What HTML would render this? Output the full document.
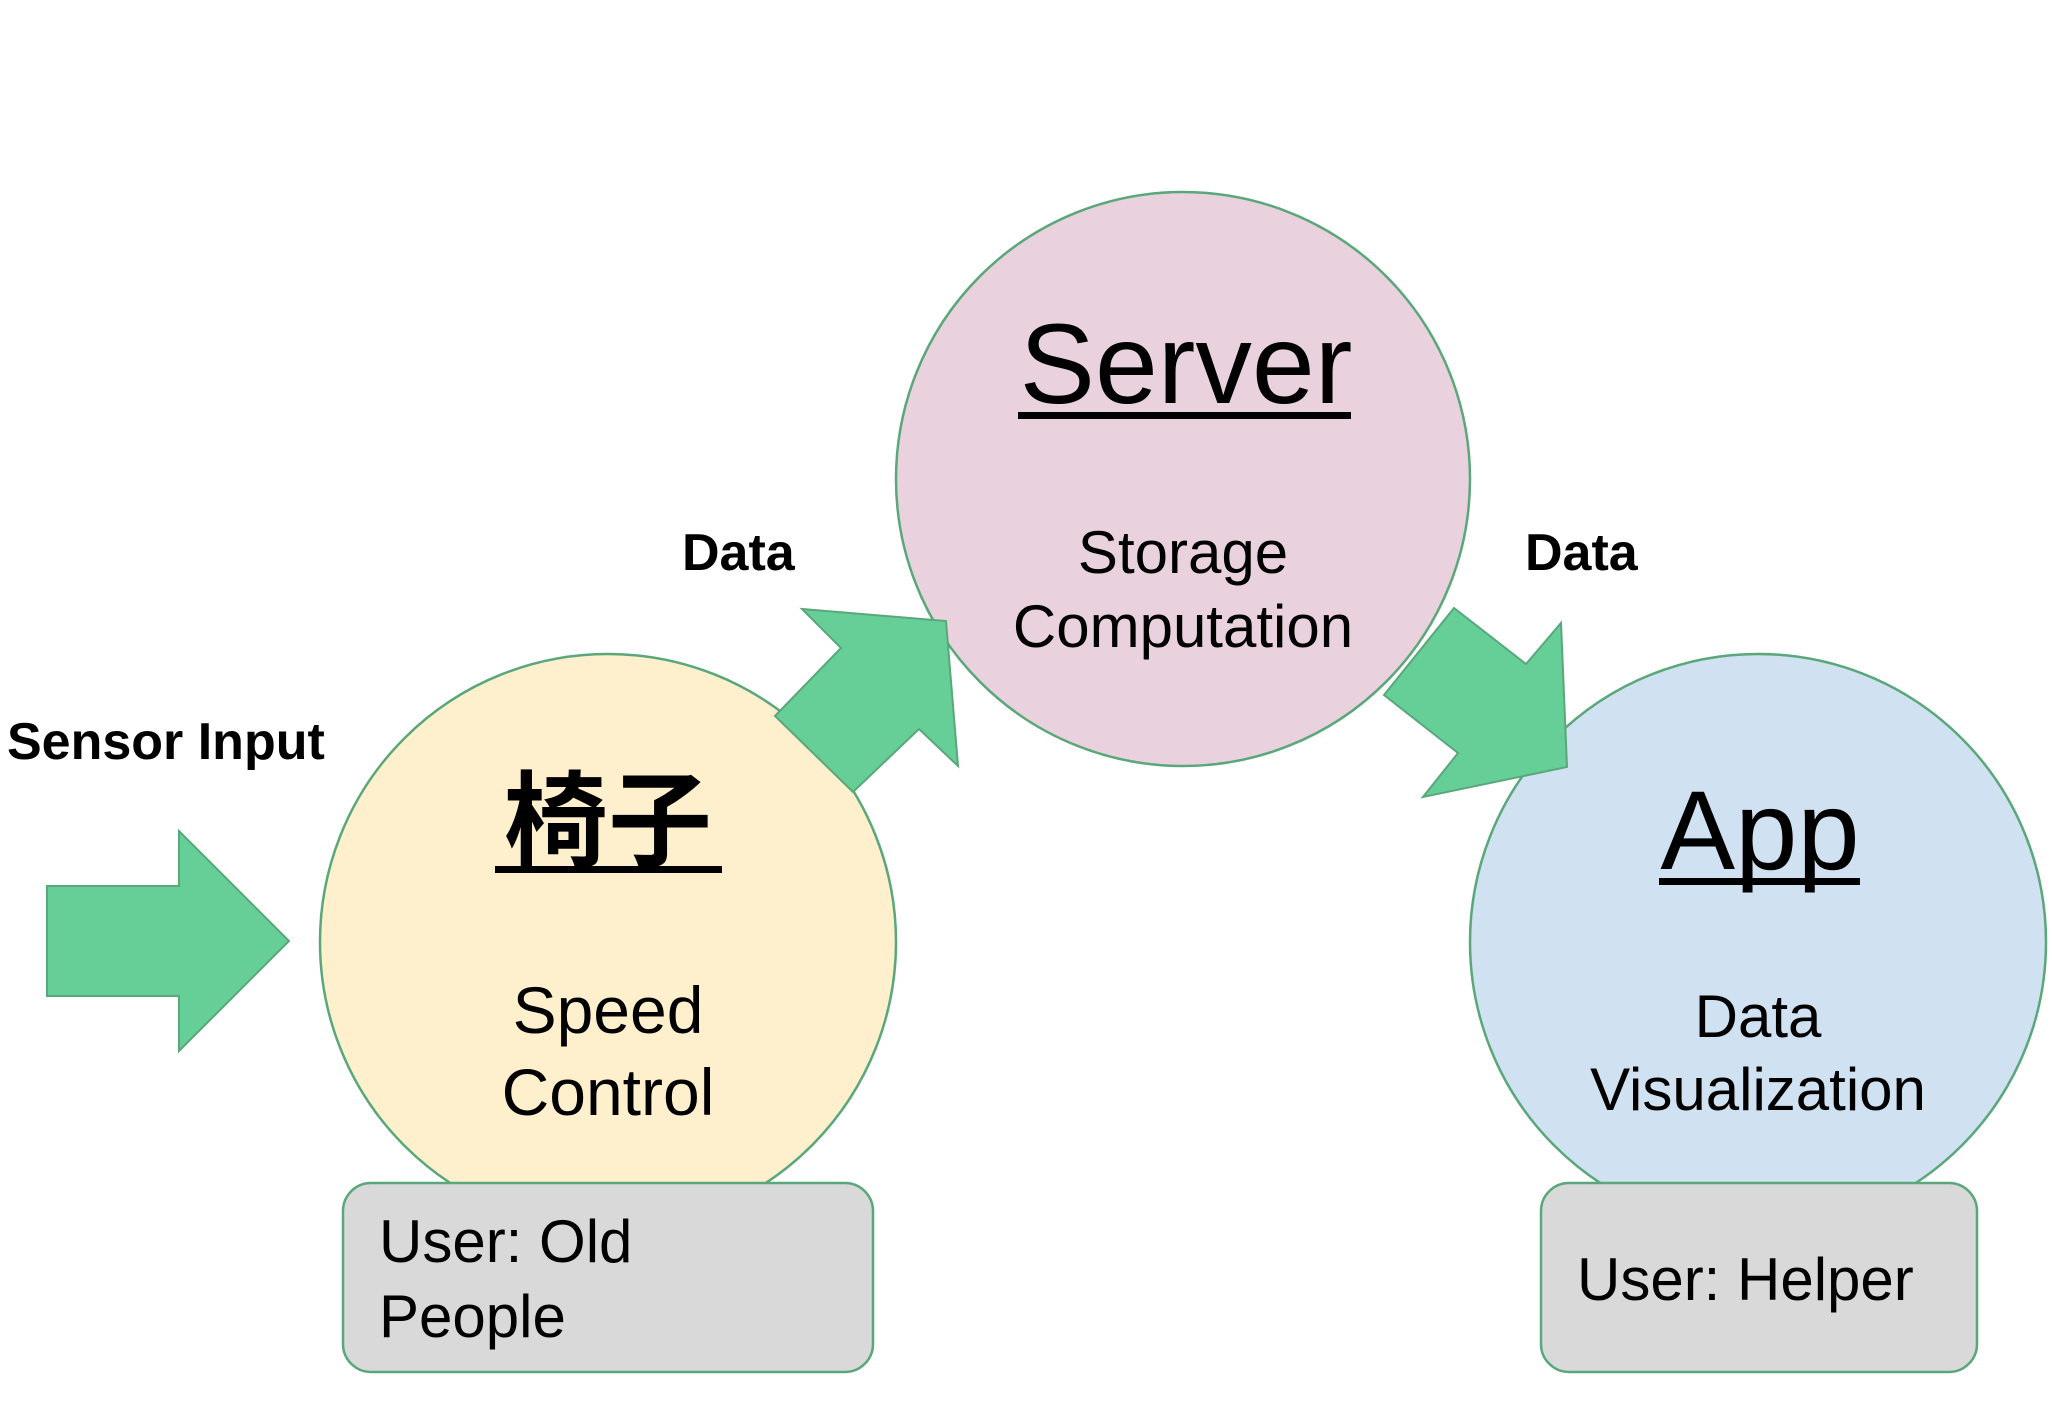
<!DOCTYPE html>
<html><head><meta charset="utf-8"><style>
html,body{margin:0;padding:0;background:#fff;}
svg{display:block;}
text{font-family:"Liberation Sans","Noto Sans CJK SC",sans-serif;fill:#000;}
</style></head><body>
<svg width="2052" height="1402" viewBox="0 0 2052 1402" xmlns="http://www.w3.org/2000/svg">
<rect width="2052" height="1402" fill="#fff"/>
<circle cx="608" cy="942" r="288" fill="#fff0cd" stroke="#5aa77a" stroke-width="2.5"/>
<circle cx="1183" cy="479" r="287" fill="#e9d2dd" stroke="#5aa77a" stroke-width="2.5"/>
<circle cx="1758" cy="942" r="288" fill="#d0e1f1" stroke="#5aa77a" stroke-width="2.5"/>
<polygon points="47,886 179,886 179,831 289,941 179,1051 179,996 47,996" fill="#66cf98" stroke="#5aa77a" stroke-width="2"/>
<polygon points="775,716 841,648 802,609 946,621 958,766 919,729 853,792" fill="#66cf98" stroke="#5aa77a" stroke-width="2"/>
<polygon points="1384,695 1454,608 1526,664 1561,623 1567,767 1423,797 1458,753" fill="#66cf98" stroke="#5aa77a" stroke-width="2"/>
<rect x="343" y="1183" width="530" height="189" rx="28" fill="#d9d9d9" stroke="#5aa77a" stroke-width="2.5"/>
<rect x="1541" y="1183" width="436" height="189" rx="28" fill="#d9d9d9" stroke="#5aa77a" stroke-width="2.5"/>
<text x="7" y="759" font-size="52" font-weight="bold">Sensor Input</text>
<text x="682" y="570" font-size="52" font-weight="bold">Data</text>
<text x="1525" y="570" font-size="52" font-weight="bold">Data</text>
<text x="608" y="858" font-size="104" font-weight="bold" text-anchor="middle">椅子</text>
<rect x="495" y="866" width="227" height="7" fill="#000"/>
<text x="608" y="1033" font-size="66" text-anchor="middle">Speed</text>
<text x="608" y="1115" font-size="66" text-anchor="middle">Control</text>
<text x="1186" y="403" font-size="113" text-anchor="middle">Server</text>
<rect x="1018" y="412" width="333" height="7" fill="#000"/>
<text x="1183" y="573" font-size="60" text-anchor="middle">Storage</text>
<text x="1183" y="647" font-size="60" text-anchor="middle">Computation</text>
<text x="1760" y="869" font-size="112" text-anchor="middle">App</text>
<rect x="1659" y="878" width="201" height="7" fill="#000"/>
<text x="1758" y="1037" font-size="60" text-anchor="middle">Data</text>
<text x="1758" y="1110" font-size="60" text-anchor="middle">Visualization</text>
<text x="379" y="1262" font-size="60">User: Old</text>
<text x="379" y="1337" font-size="60">People</text>
<text x="1577" y="1300" font-size="60">User: Helper</text>
</svg>
</body></html>
